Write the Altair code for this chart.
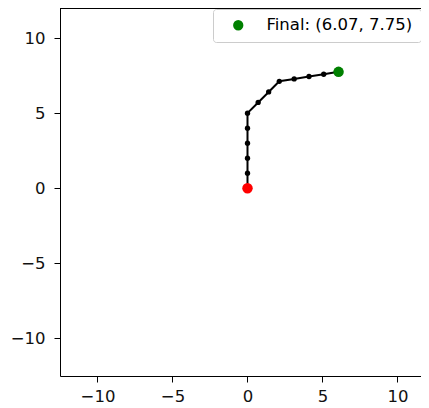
import altair as alt
import pandas as pd

# Path points
xs = [0, 0, 0, 0, 0, 0, 0.71, 1.41, 2.12, 3.11, 4.10, 5.08, 6.07]
ys = [0, 1, 2, 3, 4, 5, 5.71, 6.41, 7.12, 7.28, 7.44, 7.59, 7.75]
final_label = "Final: (6.07, 7.75)"
ticks = [-10, -5, 0, 5, 10]
x_domain = [-12.5, 11.567]
y_domain = [-12.5, 12.0]

path = pd.DataFrame({"x": xs, "y": ys, "order": list(range(len(xs)))})
startdf = pd.DataFrame({"x": [xs[0]], "y": [ys[0]]})
finaldf = pd.DataFrame({"x": [xs[-1]], "y": [ys[-1]], "label": [final_label]})

FS = 16.5
xscale = alt.Scale(domain=x_domain, nice=False, zero=False)
yscale = alt.Scale(domain=y_domain, nice=False, zero=False)
xaxis = alt.Axis(values=ticks, title=None, grid=False, labelPadding=6,
                 labelExpr="replace(datum.label, '-', '\u2212')")
yaxis = alt.Axis(values=ticks, title=None, grid=False, labelPadding=9,
                 labelExpr="replace(datum.label, '-', '\u2212')")

X = alt.X("x:Q", scale=xscale, axis=xaxis)
Y = alt.Y("y:Q", scale=yscale, axis=yaxis)

# top spine of the axes box
top = alt.Chart(path).mark_rule(color="black", strokeWidth=1).encode(
    y=alt.datum(y_domain[1]), x=alt.value(0), x2=alt.value("width"))
line = alt.Chart(path).mark_line(color="black", strokeWidth=2).encode(
    x=X, y=Y, order="order:Q")
dots = alt.Chart(path).mark_circle(color="black", size=28, opacity=1).encode(x=X, y=Y)
start = alt.Chart(startdf).mark_circle(color="red", size=110, opacity=1).encode(x=X, y=Y)
final = alt.Chart(finaldf).mark_circle(size=110, opacity=1).encode(
    x=X, y=Y,
    color=alt.Color("label:N",
                    scale=alt.Scale(domain=[final_label], range=["green"]),
                    legend=alt.Legend(title=None, orient="none", legendX=153, legendY=1,
                                      padding=8, symbolOffset=9, labelOffset=20,
                                      symbolSize=106, symbolType="circle",
                                      symbolOpacity=1,
                                      strokeColor="#cccccc", cornerRadius=3,
                                      fillColor="white", labelFontSize=FS,
                                      labelFont="DejaVu Sans", labelColor="black")))

chart = alt.layer(top, line, dots, start, final).properties(
    width=361, height=368,
    autosize=alt.AutoSizeParams(type="none"),
    padding={"left": 52, "top": 0, "right": 0, "bottom": 32},
).configure_view(stroke=None).configure_axis(
    domainColor="black", tickColor="black", tickSize=6, domainWidth=1, tickWidth=1,
    labelFontSize=FS, labelFont="DejaVu Sans", labelColor="#111111")

chart.save("out.html", embed_options={"renderer": "svg", "actions": False})
